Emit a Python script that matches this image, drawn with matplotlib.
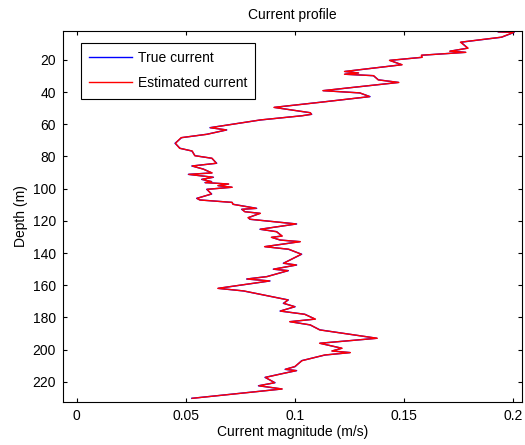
import matplotlib
matplotlib.use("Agg")
import matplotlib.pyplot as plt

plt.rcParams['font.family'] = ['Liberation Sans', 'DejaVu Sans']

depth = [2.6, 2.9, 5.9, 9.0, 12.7, 14.6, 15.3, 17.1, 18.4, 20.3, 23.0, 27.2, 28.1, 28.9,
         29.8, 32.4, 34.0, 39.1, 40.5, 42.8, 46.2, 49.5, 52.8, 53.8, 54.7, 57.3, 62.1,
         63.5, 66.2, 68.3, 71.8, 74.9, 76.6, 79.5, 81.1, 84.2, 85.9, 87.8, 90.2, 91.1,
         92.9, 94.2, 95.6, 96.2, 97.1, 98.1, 99.1, 100.4, 103.3, 106.0, 107.0, 108.5,
         109.7, 112.2, 112.8, 114.3, 115.3, 118.0, 119.0, 121.9, 125.2, 126.7, 129.4,
         130.2, 131.9, 132.9, 136.0, 137.6, 140.7, 146.3, 147.4, 150.0, 150.9, 154.6,
         156.1, 157.3, 161.9, 163.5, 169.1, 171.2, 173.3, 176.0, 178.0, 181.0, 182.6,
         184.6, 187.7, 192.9, 196.0, 199.1, 200.8, 201.8, 203.3, 206.8, 210.5, 212.2,
         213.0, 214.7, 217.2, 220.5, 222.4, 224.4, 230.2]

true_current = [0.1930, 0.2003, 0.1946, 0.1760, 0.1790, 0.1710, 0.1780, 0.1580, 0.1580,
                0.1434, 0.1488, 0.1228, 0.1289, 0.1228, 0.1358, 0.1382, 0.1473, 0.1129,
                0.1295, 0.1343, 0.1122, 0.0905, 0.1068, 0.1076, 0.1030, 0.0842, 0.0610,
                0.0687, 0.0595, 0.0480, 0.0450, 0.0473, 0.0527, 0.0542, 0.0618, 0.0641,
                0.0527, 0.0580, 0.0618, 0.0511, 0.0626, 0.0572, 0.0618, 0.0587, 0.0694,
                0.0648, 0.0710, 0.0595, 0.0618, 0.0549, 0.0565, 0.0710, 0.0717, 0.0824,
                0.0755, 0.0771, 0.0839, 0.0786, 0.0793, 0.1007, 0.0839, 0.0916, 0.0939,
                0.0893, 0.0931, 0.1022, 0.0862, 0.0969, 0.1030, 0.0946, 0.1007, 0.0900,
                0.0969, 0.0870, 0.0778, 0.0885, 0.0648, 0.0763, 0.0969, 0.0946, 0.1000,
                0.0931, 0.1045, 0.1091, 0.0977, 0.1068, 0.1114, 0.1374, 0.1114, 0.1213,
                0.1170, 0.1251, 0.1137, 0.1030, 0.1000, 0.0954, 0.1007, 0.0946, 0.0862,
                0.0908, 0.0832, 0.0939, 0.0527]

est_current = [0.1932, 0.2001, 0.1944, 0.1757, 0.1792, 0.1708, 0.1782, 0.1578, 0.1582,
               0.1432, 0.1490, 0.1226, 0.1291, 0.1226, 0.1360, 0.1380, 0.1475, 0.1127,
               0.1297, 0.1341, 0.1124, 0.0903, 0.1070, 0.1074, 0.1032, 0.0840, 0.0612,
               0.0685, 0.0597, 0.0478, 0.0452, 0.0471, 0.0529, 0.0540, 0.0620, 0.0639,
               0.0529, 0.0578, 0.0620, 0.0513, 0.0624, 0.0574, 0.0616, 0.0589, 0.0696,
               0.0646, 0.0712, 0.0597, 0.0616, 0.0551, 0.0563, 0.0712, 0.0715, 0.0822,
               0.0757, 0.0769, 0.0841, 0.0784, 0.0795, 0.1005, 0.0841, 0.0914, 0.0941,
               0.0891, 0.0933, 0.1024, 0.0860, 0.0971, 0.1028, 0.0948, 0.1005, 0.0902,
               0.0967, 0.0872, 0.0780, 0.0883, 0.0646, 0.0765, 0.0967, 0.0948, 0.0998,
               0.0933, 0.1043, 0.1093, 0.0975, 0.1070, 0.1112, 0.1376, 0.1112, 0.1215,
               0.1168, 0.1253, 0.1135, 0.1032, 0.0998, 0.0956, 0.1005, 0.0948, 0.0864,
               0.0906, 0.0834, 0.0941, 0.0529]

xticks = [0, 0.05, 0.1, 0.15, 0.2]
xtick_labels = ["0", "0.05", "0.1", "0.15", "0.2"]
yticks = [20, 40, 60, 80, 100, 120, 140, 160, 180, 200, 220]

fig = plt.figure(figsize=(5.25, 4.45), dpi=100)
ax = fig.add_axes([63/525, 1 - 401.7/445, (522 - 63)/525, (401.7 - 31)/445])

ax.plot(true_current, depth, color=(0, 0, 1), lw=1.0, label="True current")
ax.plot(est_current, depth, color=(1, 0, 0), lw=1.0, label="Estimated current")

ax.set_xlim(-0.0063, 0.2039)
ax.set_ylim(232.3, 2.05)
ax.set_xticks(xticks)
ax.set_xticklabels(xtick_labels)
ax.set_yticks(yticks)

ax.tick_params(direction='in', length=3, width=0.8, top=True, right=True,
               labelsize=10, colors='black', pad=5)
for s in ax.spines.values():
    s.set_linewidth(0.8)
    s.set_color('black')

ax.set_xlabel("Current magnitude (m/s)", fontsize=10, labelpad=2)
ax.set_ylabel("Depth (m)", fontsize=10, labelpad=3)
ax.set_title("Current profile", fontsize=10, pad=9)

leg = ax.legend(loc='upper left', bbox_to_anchor=(0.0386, 0.968), borderaxespad=0,
                fontsize=10, frameon=True, fancybox=False, framealpha=1,
                edgecolor='black', handlelength=3.1, handletextpad=0.4,
                borderpad=0.6, labelspacing=0.8)
leg.get_frame().set_linewidth(0.8)

fig.savefig("out.png", dpi=100)
